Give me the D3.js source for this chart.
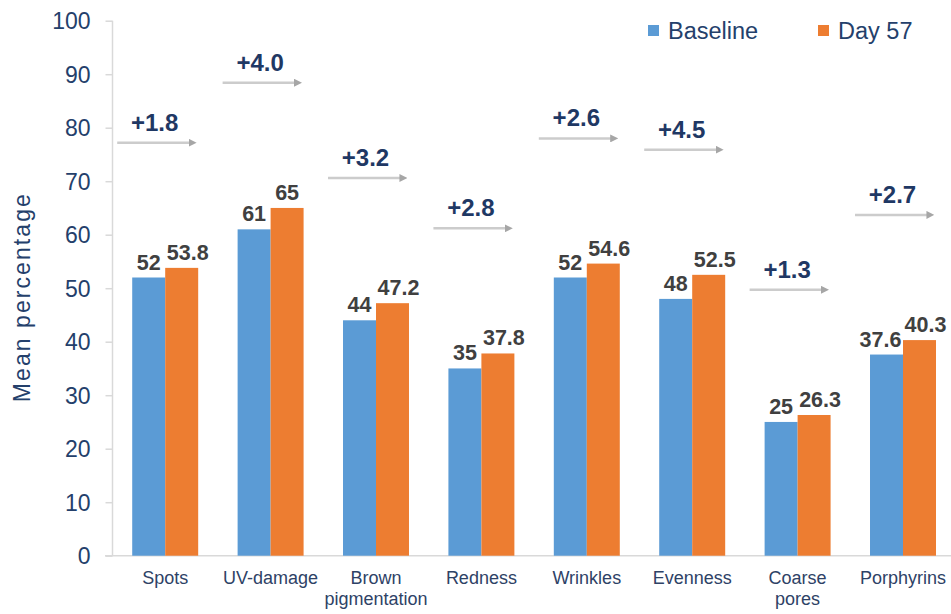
<!DOCTYPE html>
<html>
<head>
<meta charset="utf-8">
<script src="https://cdn.jsdelivr.net/npm/d3@7"></script>
<style>
  html, body { margin: 0; padding: 0; background: #fff; }
  svg { display: block; font-family: "Liberation Sans", Arial, sans-serif; }
</style>
</head>
<body>
<svg id="chart" width="951" height="614"></svg>
<script>
// Skin parameters, mean percentage at baseline and at day 57
const categories = ["Spots", "UV-damage", "Brown\npigmentation", "Redness", "Wrinkles", "Evenness", "Coarse\npores", "Porphyrins"];
const baseline = [52, 61, 44, 35, 52, 48, 25, 37.6];
const day57 = [53.8, 65, 47.2, 37.8, 54.6, 52.5, 26.3, 40.3];
const seriesNames = ["Baseline", "Day 57"];
const yTicks = [0, 10, 20, 30, 40, 50, 60, 70, 80, 90, 100];

const colors = { "Baseline": "#5b9bd5", "Day 57": "#ed7d31" };
const svg = d3.select("#chart");

const y = d3.scaleLinear().domain([0, 100]).range([555.7, 20.7]);
const x = d3.scaleBand().domain(categories)
  .range([112.5, 955.7]).paddingInner(0.374).paddingOuter(0.187);
const xs = d3.scaleBand().domain(seriesNames).range([0, x.bandwidth()]);

const rows = categories.map((c, i) => ({ cat: c, vals: [baseline[i], day57[i]] }));

// axes
const axisColor = "#d9d9d9";
const yAxis = svg.append("g").attr("transform", "translate(112.5,0)")
  .call(d3.axisLeft(y).tickValues(yTicks).tickSize(7).tickPadding(15).tickFormat(d3.format("d")));
yAxis.select(".domain").attr("stroke", axisColor).attr("stroke-width", 1.5).attr("d", `M0,${y(100)}V${y(0)}`);
yAxis.selectAll(".tick line").attr("stroke", axisColor).attr("stroke-width", 1.5);
yAxis.selectAll(".tick text").attr("fill", "#24406b").attr("font-size", 23)
  .attr("font-family", "Liberation Sans, Arial, sans-serif").attr("dy", "0.36em");

svg.append("line").attr("x1", 105).attr("x2", 951).attr("y1", y(0)).attr("y2", y(0))
  .attr("stroke", axisColor).attr("stroke-width", 1.5);

// y axis title
svg.append("text")
  .attr("transform", `translate(30,${(y(0) + y(100)) / 2 + 10}) rotate(-90)`)
  .attr("text-anchor", "middle").attr("fill", "#24406b").attr("font-size", 23)
  .attr("textLength", 208).attr("lengthAdjust", "spacing")
  .text("Mean percentage");

// category labels
const xl = svg.append("g");
rows.forEach(r => {
  const cx = x(r.cat) + x.bandwidth() / 2;
  const lines = r.cat.split("\n");
  const t = xl.append("text").attr("text-anchor", "middle").attr("fill", "#2e4266").attr("font-size", 18);
  lines.forEach((ln, k) => t.append("tspan").attr("x", cx).attr("y", 584 + k * 21).text(ln));
});

// bars
const groups = svg.append("g").selectAll("g").data(rows).join("g")
  .attr("transform", d => `translate(${x(d.cat)},0)`);
groups.selectAll("rect").data(d => d.vals.map((v, k) => ({ s: seriesNames[k], v })))
  .join("rect")
  .attr("x", d => xs(d.s)).attr("width", xs.bandwidth())
  .attr("y", d => y(d.v)).attr("height", d => y(0) - y(d.v))
  .attr("fill", d => colors[d.s]);

// value labels; wide labels are nudged outward from the pair
groups.selectAll("text.val").data(d => d.vals.map((v, k) => ({ s: seriesNames[k], k, v })))
  .join("text").attr("class", "val")
  .attr("text-anchor", "middle").attr("font-weight", "bold").attr("font-size", 21.5).attr("fill", "#404040")
  .attr("y", d => y(d.v) - 8)
  .text(d => String(d.v))
  .attr("x", function (d) {
    const w = this.getComputedTextLength();
    const shift = w > xs.bandwidth() ? (d.k === 0 ? -6 : 6) : 0;
    return xs(d.s) + xs.bandwidth() / 2 + shift;
  });

// change arrows with labels
svg.append("defs").append("marker")
  .attr("id", "head").attr("viewBox", "0 0 10 10").attr("refX", 2).attr("refY", 5)
  .attr("markerWidth", 3.2).attr("markerHeight", 3.2).attr("orient", "auto")
  .append("path").attr("d", "M0,0L10,5L0,10Z").attr("fill", "#a6a6a6");

const arrows = svg.append("g");
rows.forEach(r => {
  const top = d3.max(r.vals);
  const delta = r.vals[1] - r.vals[0];
  const ay = y(top + 23.4);
  const x0 = x(r.cat) - 15, x1 = x(r.cat) + 58;
  arrows.append("line").attr("x1", x0).attr("x2", x1).attr("y1", ay).attr("y2", ay)
    .attr("stroke", "#cccccc").attr("stroke-width", 2.5).attr("marker-end", "url(#head)");
  arrows.append("text").attr("x", (x0 + x1) / 2 + 1).attr("y", ay - 12)
    .attr("text-anchor", "middle").attr("font-weight", "bold").attr("font-size", 24).attr("fill", "#1f3864")
    .text("+" + delta.toFixed(1));
});

// legend
const legend = svg.append("g");
[[648, 668], [818, 838]].forEach(([sx, tx], k) => {
  const s = seriesNames[k];
  legend.append("rect").attr("x", sx).attr("y", 25).attr("width", 11).attr("height", 11).attr("fill", colors[s]);
  legend.append("text").attr("x", tx).attr("y", 38.5).attr("font-size", 23.5).attr("fill", "#24406b").text(s);
});
</script>
</body>
</html>
